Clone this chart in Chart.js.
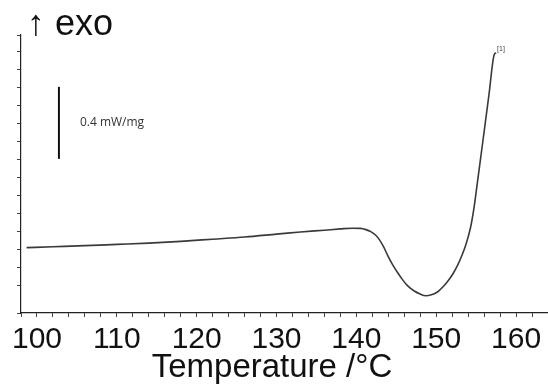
<!DOCTYPE html>
<html>
<head>
<meta charset="utf-8">
<script src="https://cdn.jsdelivr.net/npm/chart.js@4/dist/chart.umd.min.js"></script>
<style>
  html, body { margin: 0; padding: 0; background: #fff; }
  #wrap { width: 548px; height: 391px; position: relative; }
</style>
</head>
<body>
<div id="wrap"><canvas id="c" width="548" height="391"></canvas></div>
<script>
// Temperature (°C) and DSC heat flow (mW/mg, arbitrary offset)
const temperature = [98.7, 102, 106, 110, 114, 118, 122, 126, 130, 133, 136, 138, 139.5, 140.5, 141.2, 141.8, 142.4, 142.9, 143.4, 143.9, 144.5, 145.2, 145.8, 146.4, 147.25, 148, 148.7, 149.4, 150.2, 150.8, 151.4, 152.1, 152.7, 153.2, 153.7, 154.3, 154.75, 155.1, 155.8, 156.2, 156.6, 157.25, 157.5];
const heatFlow = [0.313, 0.318, 0.324, 0.331, 0.338, 0.348, 0.360, 0.372, 0.388, 0.400, 0.410, 0.417, 0.421, 0.420, 0.413, 0.402, 0.383, 0.356, 0.318, 0.272, 0.222, 0.172, 0.134, 0.102, 0.072, 0.055, 0.046, 0.051, 0.068, 0.093, 0.124, 0.168, 0.217, 0.268, 0.328, 0.425, 0.540, 0.655, 0.890, 1.025, 1.160, 1.383, 1.395];
// Scale bar: 0.4 mW/mg
const scaleBarT = [102.75, 102.75];
const scaleBarV = [0.806, 1.206];
const scaleBarLabel = "0.4 mW/mg";
const xTickLabels = [100, 110, 120, 130, 140, 150, 160];
const xTitle = "Temperature /°C";
const exoLabel = "↑ exo";
const curveLabel = "[1]";

const curve = temperature.map((t, i) => ({ x: t, y: heatFlow[i] }));
const bar = scaleBarT.map((t, i) => ({ x: t, y: scaleBarV[i] }));

const textPlugin = {
  id: 'texts',
  afterDraw(chart) {
    const ctx = chart.ctx;
    const xs = chart.scales.x, ys = chart.scales.y;
    ctx.save();
    ctx.fillStyle = '#111';
    ctx.textBaseline = 'alphabetic';
    ctx.textAlign = 'left';
    ctx.font = '36px "Liberation Sans", Arial, sans-serif';
    ctx.fillText(exoLabel, 27, 35);
    // x axis title
    ctx.textAlign = 'center';
    ctx.textBaseline = 'middle';
    ctx.font = '33px "Liberation Sans", Arial, sans-serif';
    ctx.fillText(xTitle, 272, 368);
    // scale bar label
    ctx.textAlign = 'left';
    ctx.fillStyle = '#333';
    ctx.font = '12px "Open Sans", "Liberation Sans", sans-serif';
    const midV = (scaleBarV[0] + scaleBarV[1]) / 2;
    ctx.fillText(scaleBarLabel, xs.getPixelForValue(scaleBarT[0]) + 21, ys.getPixelForValue(midV));
    // curve label
    const last = curve[curve.length - 1];
    ctx.font = '7px "Liberation Sans", sans-serif';
    ctx.fillStyle = '#444';
    ctx.fillText(curveLabel, xs.getPixelForValue(last.x) + 1, ys.getPixelForValue(last.y) - 4);
    ctx.restore();
  }
};

new Chart(document.getElementById('c'), {
  type: 'line',
  data: {
    datasets: [
      { data: curve, borderColor: '#3a3a3a', borderWidth: 1.6, pointRadius: 0, fill: false, cubicInterpolationMode: 'monotone' },
      { data: bar, borderColor: '#111', borderWidth: 2, pointRadius: 0, fill: false, tension: 0 }
    ]
  },
  options: {
    responsive: false,
    animation: false,
    layout: { padding: { top: 35, right: 0, left: 0, bottom: 0 } },
    plugins: { legend: { display: false }, tooltip: { enabled: false } },
    scales: {
      x: {
        type: 'linear', min: 98, max: 164,
        afterFit: s => { s.height = 78; s.paddingLeft = 0; s.paddingRight = 0; },
        border: { display: true, color: '#222', width: 1.2 },
        grid: { drawOnChartArea: false, drawTicks: true, tickLength: 4, color: '#444' },
        ticks: {
          stepSize: 2, autoSkip: false, maxRotation: 0, padding: 5, color: '#111',
          font: { family: '"Liberation Sans", Arial, sans-serif', size: 30 },
          callback: v => xTickLabels.includes(v) ? String(v) : ''
        }
      },
      y: {
        type: 'linear', min: -0.05, max: 1.494,
        afterFit: s => { s.width = 21; s.paddingTop = 0; s.paddingBottom = 0; },
        border: { display: true, color: '#222', width: 1.2 },
        grid: { drawOnChartArea: false, drawTicks: true, tickLength: 4, color: '#444' },
        ticks: { stepSize: 0.1, display: false }
      }
    }
  },
  plugins: [textPlugin]
});
</script>
</body>
</html>
